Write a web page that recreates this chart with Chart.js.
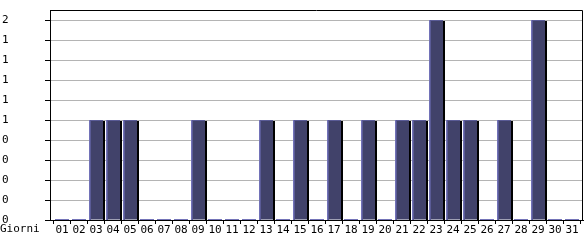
<!DOCTYPE html>
<html>
<head>
<meta charset="utf-8">
<script src="https://cdn.jsdelivr.net/npm/chart.js@4"></script>
<style>
  html, body { margin: 0; padding: 0; background: #fff; }
  #wrap { width: 585px; height: 240px; }
</style>
</head>
<body>
<div id="wrap"><canvas id="dailyChart"></canvas></div>
<script>
const days = [1, 2, 3, 4, 5, 6, 7, 8, 9, 10, 11, 12, 13, 14, 15, 16,
  17, 18, 19, 20, 21, 22, 23, 24, 25, 26, 27, 28, 29, 30, 31];
const dayLabels = ["01", "02", "03", "04", "05", "06", "07", "08", "09", "10", "11",
  "12", "13", "14", "15", "16", "17", "18", "19", "20", "21", "22", "23", "24", "25",
  "26", "27", "28", "29", "30", "31"];
const visits = [0, 0, 1, 1, 1, 0, 0, 0, 1, 0, 0, 0, 1, 0, 1, 0,
  1, 0, 1, 0, 1, 1, 2, 1, 1, 0, 1, 0, 2, 0, 0];
const yTickValues = [0, 0.2, 0.4, 0.6, 0.8, 1, 1.2, 1.4, 1.6, 1.8, 2];
const yTickLabels = ["0", "0", "0", "0", "0", "1", "1", "1", "1", "1", "2"];
const axisTitle = "Giorni";

const monoFont = { family: '"DejaVu Sans Mono", monospace', size: 11 };

// frame, bar edges and the "Giorni" caption
const barTrim = {
  id: "barTrim",
  afterDatasetsDraw(chart) {
    const ctx = chart.ctx;
    const meta = chart.getDatasetMeta(0);
    ctx.save();
    meta.data.forEach((bar, i) => {
      const p = bar.getProps(["x", "y", "base", "width"], true);
      const left = Math.round(p.x - p.width / 2);
      const right = Math.round(p.x + p.width / 2);
      const base = Math.round(p.base);
      const top = Math.round(p.y);
      if (visits[i] === 0) {
        ctx.fillStyle = "#7474b8";
        ctx.fillRect(left, base - 1, right - left, 1);
        return;
      }
      ctx.fillStyle = "#000";
      ctx.fillRect(right, top + 1, 2, base - top - 1);
      ctx.fillStyle = "#5a5b96";
      ctx.fillRect(left, top, right - left, 1);
      ctx.fillRect(left + 1, top, 1, base - top);
      ctx.fillStyle = "#7272b8";
      ctx.fillRect(left, top, 1, base - top);
    });
    ctx.restore();
  },
  afterDraw(chart) {
    const ctx = chart.ctx;
    const area = chart.chartArea;
    ctx.save();
    ctx.strokeStyle = "#000";
    ctx.lineWidth = 1;
    ctx.beginPath();
    ctx.moveTo(Math.round(area.left) + 0.5, Math.round(area.top) + 0.5);
    ctx.lineTo(Math.round(area.right) - 0.5, Math.round(area.top) + 0.5);
    ctx.lineTo(Math.round(area.right) - 0.5, Math.round(area.bottom));
    ctx.stroke();
    ctx.font = '11px "DejaVu Sans Mono", monospace';
    ctx.fillStyle = "#000";
    ctx.textBaseline = "top";
    ctx.fillText(axisTitle, 0, area.bottom + 4);
    ctx.restore();
  }
};

new Chart(document.getElementById("dailyChart"), {
  type: "bar",
  data: {
    datasets: [{
      data: days.map((d, i) => ({ x: d, y: visits[i] })),
      backgroundColor: "#41426a",
      borderWidth: 0,
      barPercentage: 0.8235,
      categoryPercentage: 1
    }]
  },
  options: {
    responsive: true,
    maintainAspectRatio: false,
    animation: false,
    devicePixelRatio: 1,
    layout: { padding: { left: 2, right: 2, top: 10, bottom: 0 } },
    plugins: {
      legend: { display: false },
      tooltip: { enabled: false }
    },
    scales: {
      x: {
        type: "linear",
        min: 0.294,
        max: 31.647,
        offset: false,
        afterBuildTicks: (s) => { s.ticks = days.map((d) => ({ value: d })); },
        afterFit: (s) => { s.height = 20; },
        ticks: {
          autoSkip: false,
          maxRotation: 0,
          padding: 0,
          color: "#000",
          font: monoFont,
          callback: (v, i) => dayLabels[i]
        },
        grid: { drawOnChartArea: false, tickLength: 4, tickColor: "#000" },
        border: { color: "#000" }
      },
      y: {
        min: 0,
        max: 2.1,
        afterBuildTicks: (s) => { s.ticks = yTickValues.map((v) => ({ value: v })); },
        afterFit: (s) => { s.width = 48; },
        ticks: {
          crossAlign: "far",
          color: "#000",
          font: monoFont,
          callback: (v, i) => yTickLabels[i]
        },
        grid: { color: "#b4b4b4", tickLength: 5, tickColor: "#000" },
        border: { color: "#000" }
      }
    }
  },
  plugins: [barTrim]
});
</script>
</body>
</html>
